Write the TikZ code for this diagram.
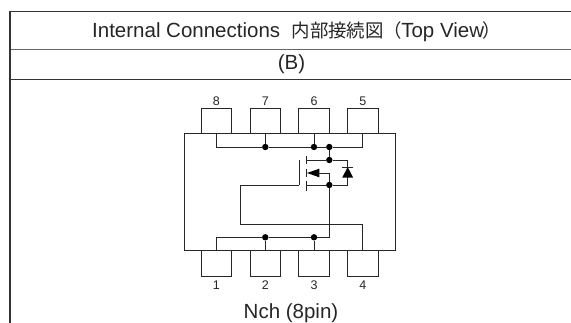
\documentclass[tikz,border=0pt]{standalone}
\usepackage{fontspec}
\usetikzlibrary{positioning}
\setmainfont{Liberation Sans}
\newfontfamily\cjk[Scale=0.9]{Noto Sans CJK JP}
\tikzset{
	wire/.style={line width=0.9pt,black!85},
	rule/.style={line width=0.9pt,black!80},
	pinbox/.style={draw=black!85,line width=0.9pt,minimum width=30.5pt,minimum height=26pt,inner sep=0pt},
	pinnum/.style={font=\fontsize{12.5}{14}\selectfont,text=black!85,inner sep=0pt},
	junct/.style={circle,fill=black,inner sep=0pt,minimum size=6.4pt},
	caption/.style={font=\fontsize{20.5}{22}\selectfont,text=black!85,inner sep=0pt},
}
\begin{document}
\begin{tikzpicture}[x=1pt,y=-1pt]
	\useasboundingbox (0,0) rectangle (571,323);
	% table frame
	\coordinate (topleft) at (10,11.5);
	\coordinate (topright) at (571,11.5);
	\coordinate (midleft) at (10,49);
	\coordinate (midright) at (571,49);
	\coordinate (lowleft) at (10,79);
	\coordinate (lowright) at (571,79);
	\coordinate (endleft) at (10,323);
	\draw[rule,line width=1.3pt] (topleft) -- (topright);
	\draw[rule,black!60] (midleft) -- (midright);
	\draw[rule] (lowleft) -- (lowright);
	\draw[rule,line width=1.1pt] (topleft) -- (endleft);
	\node[caption,anchor=west] (title) at (92,31.5) {Internal Connections\ \ {\cjk 内部接続図（}\kern-1pt Top View{\cjk\kern-2pt ）}};
	\node[caption] (variant) at (291.5,64) {(B)};
	\node[caption] (chan) at (291,313) {Nch (8pin)};
	% package and pins
	\foreach \n/\px in {8/216.3,7/265.3,6/314,5/362.8}{
		\node[pinbox] (pin\n) at (\px,121) {};
		\node[pinnum,above=2pt of pin\n] (num\n) {\n};
	}
	\foreach \n/\px in {1/216.3,2/265.3,3/314,4/362.8}{
		\node[pinbox] (pin\n) at (\px,263.3) {};
		\node[pinnum,below=3.7pt of pin\n] (num\n) {\n};
	}
	\node[draw=black!85,line width=0.9pt,fill=white,minimum width=210.5pt,minimum height=116.7pt,inner sep=0pt] (pkg) at (289.8,192.3) {};
	% top bus
	\node[junct] (d7) at (265.3,147) {};
	\node[junct] (d6) at (314,147) {};
	\node[junct] (d0) at (329.3,147) {};
	\draw[wire] (pin8.south) |- (d7) -- (d6) -- (d0) -| (pin5.south);
	\draw[wire] (pin7.south) -- (d7);
	\draw[wire] (pin6.south) -- (d6);
	% mosfet
	\node[junct] (dr) at (329.3,160) {};
	\node[junct] (sr) at (329.3,185) {};
	\coordinate (barA) at (306.3,155.7);
	\coordinate (barB) at (306.3,164);
	\coordinate (barC) at (306.3,169);
	\coordinate (barD) at (306.3,177.3);
	\coordinate (barE) at (306.3,180.7);
	\coordinate (barF) at (306.3,191);
	\coordinate (gateT) at (299,160);
	\coordinate (gateB) at (299,185);
	\coordinate (dioT) at (347.7,160);
	\coordinate (dioB) at (347.7,185);
	\draw[wire] (barA) -- (barB);
	\draw[wire] (barC) -- (barD);
	\draw[wire] (barE) -- (barF);
	\draw[wire] (gateT) -- (gateB);
	\draw[wire] (d0) -- (dr);
	\draw[wire] (barA |- dr) -- (dr) -- (dioT) -- (dioB) -- (sr) -- (barA |- sr);
	\fill (307,173) -- (319.3,168.7) -- (319.3,177.3) -- cycle;
	\draw[wire] (319.3,173) -| (sr);
	\fill (347.7,167) -- (353.2,177.7) -- (342.2,177.7) -- cycle;
	\draw[wire] (342,167) -- (353.4,167);
	% gate and source runs
	\coordinate (gateL) at (240.7,185);
	\coordinate (gateD) at (240.7,224.3);
	\node[junct] (s2) at (265.3,237.3) {};
	\node[junct] (s3) at (314,237.3) {};
	\draw[wire] (gateB) -- (gateL) -- (gateD) -| (pin4.north);
	\draw[wire] (sr) |- (s3) -- (s2) -| (pin1.north);
	\draw[wire] (s2) -- (pin2.north);
	\draw[wire] (s3) -- (pin3.north);
\end{tikzpicture}
\end{document}
